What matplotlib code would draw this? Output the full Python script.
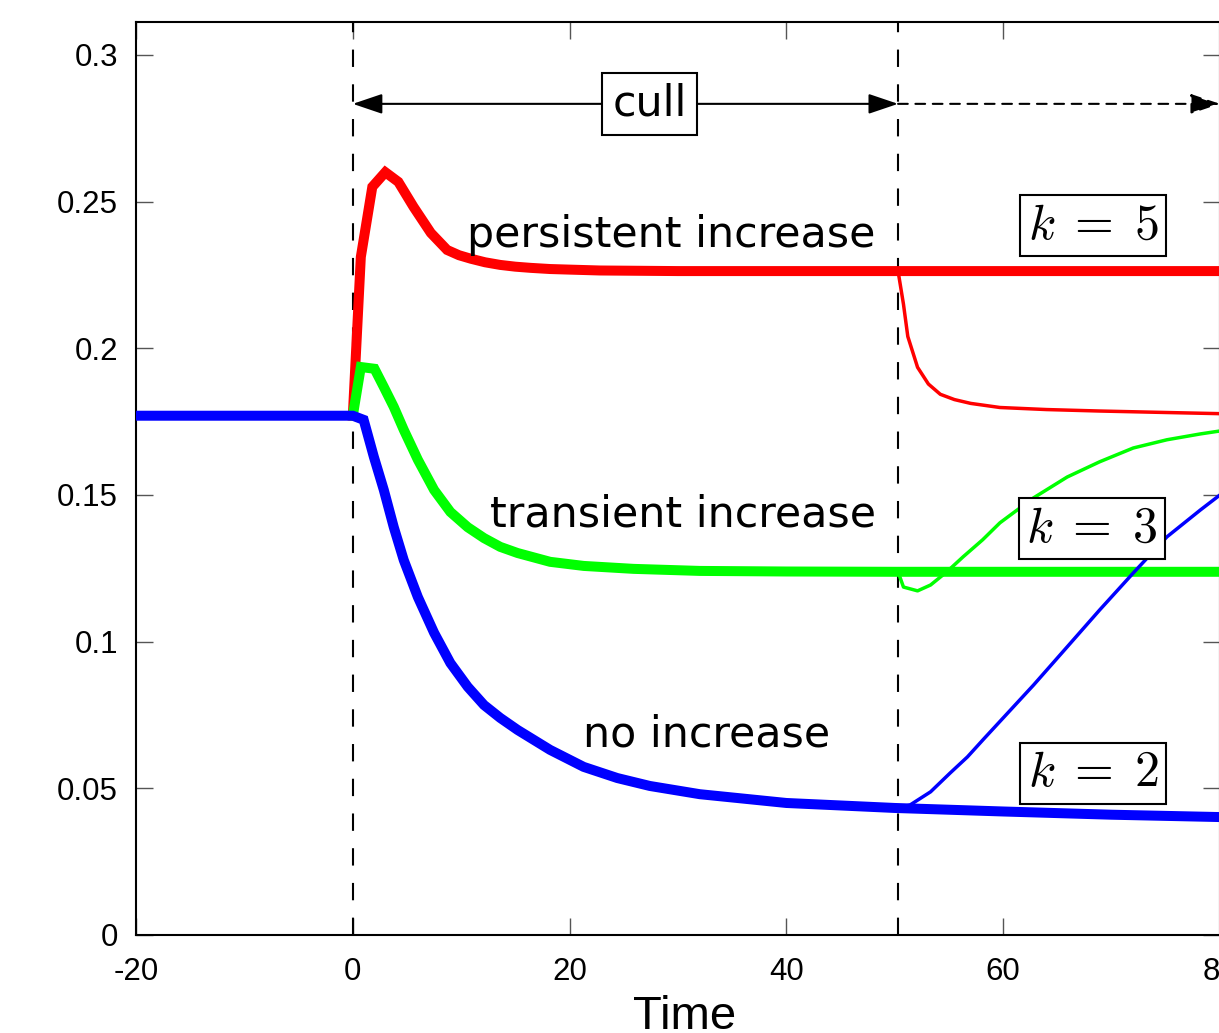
import matplotlib
matplotlib.use("Agg")
import matplotlib.pyplot as plt

plt.rcParams["font.family"] = ["Liberation Sans", "DejaVu Sans"]
plt.rcParams["mathtext.fontset"] = "cm"
plt.rcParams["lines.scale_dashes"] = False
plt.rcParams["axes.unicode_minus"] = False

# time series
pre_t = [-20, 0]
pre_y = [0.177, 0.177]

red_t = [0, 0.74, 1.8, 3.0, 4.2, 5.6, 7.2, 8.7, 9.8, 10.9, 12.2, 13.6, 15.0, 16.4, 18.2, 20, 22.8, 30, 40, 50, 60, 70, 80]
red_y = [0.177, 0.2311, 0.255, 0.260, 0.2567, 0.2482, 0.2393, 0.2335, 0.2317, 0.2305, 0.2293, 0.2284,
         0.2278, 0.2274, 0.2270, 0.2268, 0.2265, 0.2263, 0.2263, 0.2263, 0.2263, 0.2263, 0.2263]

red2_t = [50.3, 50.8, 51.2, 52.1, 53.1, 54.2, 55.5, 57, 59.7, 64, 68.9, 75, 80]
red2_y = [0.2263, 0.2150, 0.2040, 0.1935, 0.1878, 0.1843, 0.1825, 0.1812, 0.1798, 0.1791, 0.1786,
          0.1781, 0.1777]

green_t = [0, 0.74, 2.0, 2.86, 3.78, 4.7, 6.0, 7.5, 9.0, 10.6, 12.1, 13.6, 15.2, 18.2, 21.3, 25.9,
           32, 40, 50, 60, 70, 80]
green_y = [0.177, 0.1936, 0.1930, 0.1868, 0.1800, 0.1722, 0.1620, 0.1517, 0.1442, 0.1390, 0.1353,
           0.1323, 0.1302, 0.1272, 0.1258, 0.1248, 0.1241, 0.1239, 0.1238, 0.1238, 0.1238, 0.1238]

green2_t = [50.3, 50.8, 52.1, 53.3, 54.8, 56.3, 58.1, 59.7, 62.8, 65.9, 68.9, 72.0, 75.1, 78.2, 80]
green2_y = [0.1238, 0.1186, 0.1173, 0.1193, 0.1238, 0.1289, 0.1347, 0.1405, 0.1490, 0.1561, 0.1613,
            0.1660, 0.1688, 0.1708, 0.1718]

blue_t = [0, 1.0, 1.94, 2.86, 3.78, 4.7, 6.0, 7.5, 9.0, 10.6, 12.1, 13.6, 15.2, 18.2, 21.3, 24.4,
          27.4, 32, 40, 50, 60, 70, 80]
blue_y = [0.177, 0.1756, 0.1630, 0.1517, 0.1390, 0.1278, 0.1152, 0.1030, 0.0927, 0.0846, 0.0784,
          0.0740, 0.0699, 0.0631, 0.0573, 0.0535, 0.0508, 0.0480, 0.0450, 0.0433, 0.0421, 0.0410, 0.0402]

blue2_t = [50.3, 51.4, 53.3, 55.1, 56.7, 58.2, 59.7, 62.8, 65.9, 68.9, 72.0, 75.1, 78.2, 80]
blue2_y = [0.0433, 0.0443, 0.0488, 0.0552, 0.0607, 0.0668, 0.0728, 0.0852, 0.0982, 0.1108, 0.1234,
           0.1357, 0.1449, 0.1500]

cull_start = 0
cull_end = 50.3
y_ticks = [0, 0.05, 0.1, 0.15, 0.2, 0.25, 0.3]
y_ticklabels = ["0", "0.05", "0.1", "0.15", "0.2", "0.25", "0.3"]
x_ticks = [-20, 0, 20, 40, 60, 80]

fig = plt.figure(figsize=(12.19, 10.33), dpi=100)
ax = fig.add_axes([136 / 1219, 98 / 1033, 1084 / 1219, 913 / 1033])

thick = 7.2
thin = 2.5
ax.plot(red_t, red_y, color="#ff0000", lw=thick, solid_joinstyle="miter", zorder=3)
ax.plot(red2_t, red2_y, color="#ff0000", lw=thin, zorder=3)
ax.plot(green_t, green_y, color="#00ff00", lw=thick, solid_joinstyle="miter", zorder=3)
ax.plot(green2_t, green2_y, color="#00ff00", lw=thin, zorder=3)
ax.plot(pre_t + blue_t[1:], pre_y + blue_y[1:], color="#0000ff", lw=thick, solid_joinstyle="miter", zorder=3)
ax.plot(blue2_t, blue2_y, color="#0000ff", lw=thin, zorder=3)

for xv in (cull_start, cull_end):
    ax.axvline(xv, color="black", lw=1.5, linestyle=(0, (12.5, 12.5)), zorder=2)

arrow_y = 0.2833
ax.annotate("", xy=(cull_end, arrow_y), xytext=(cull_start, arrow_y),
            arrowprops=dict(arrowstyle="<|-|>,head_length=0.65,head_width=0.22", color="black", lw=1.5,
                            mutation_scale=28, shrinkA=0, shrinkB=0), zorder=4)
ax.annotate("", xy=(80, arrow_y), xytext=(cull_end, arrow_y),
            arrowprops=dict(arrowstyle="-|>,head_length=0.65,head_width=0.22", color="black", lw=1.5,
                            linestyle=(0, (7, 5.5)), mutation_scale=28, shrinkA=0, shrinkB=0), zorder=4)

txt = dict(fontsize=30.8, family="DejaVu Sans", color="black")
ax.text(27.4, arrow_y, "cull", ha="center", va="center", zorder=5,
        bbox=dict(boxstyle="square,pad=0.24", fc="white", ec="black", lw=1.5), **txt)
ax.text(48.2, 0.2345, "persistent increase", ha="right", va="baseline", zorder=5, **txt)
ax.text(48.3, 0.1391, "transient increase", ha="right", va="baseline", zorder=5, **txt)
ax.text(44.05, 0.0641, "no increase", ha="right", va="baseline", zorder=5, **txt)

kbox = dict(boxstyle="square,pad=0.15", fc="white", ec="black", lw=1.5)
ax.text(68.3, 0.2417, r"$k\;=\;5$", fontsize=36, ha="center", va="center", bbox=kbox, zorder=6)
ax.text(68.2, 0.1384, r"$k\;=\;3$", fontsize=36, ha="center", va="center", bbox=kbox, zorder=6)
ax.text(68.3, 0.0552, r"$k\;=\;2$", fontsize=36, ha="center", va="center", bbox=kbox, zorder=6)

ax.set_xlim(-20, 80)
ax.set_ylim(0, 0.3112)
ax.set_xticks(x_ticks)
ax.set_yticks(y_ticks)
ax.set_yticklabels(y_ticklabels)
ax.tick_params(direction="in", length=12, width=1.0, color="#555555", labelsize=22.5,
               top=True, right=True)
ax.tick_params(axis="y", pad=13)
ax.tick_params(axis="x", pad=16)
for s in ax.spines.values():
    s.set_linewidth(1.5)

ax.set_xlabel("Time", fontsize=34)
ax.xaxis.set_label_coords(0.5065, -0.066)

fig.savefig("out.png", dpi=100)
